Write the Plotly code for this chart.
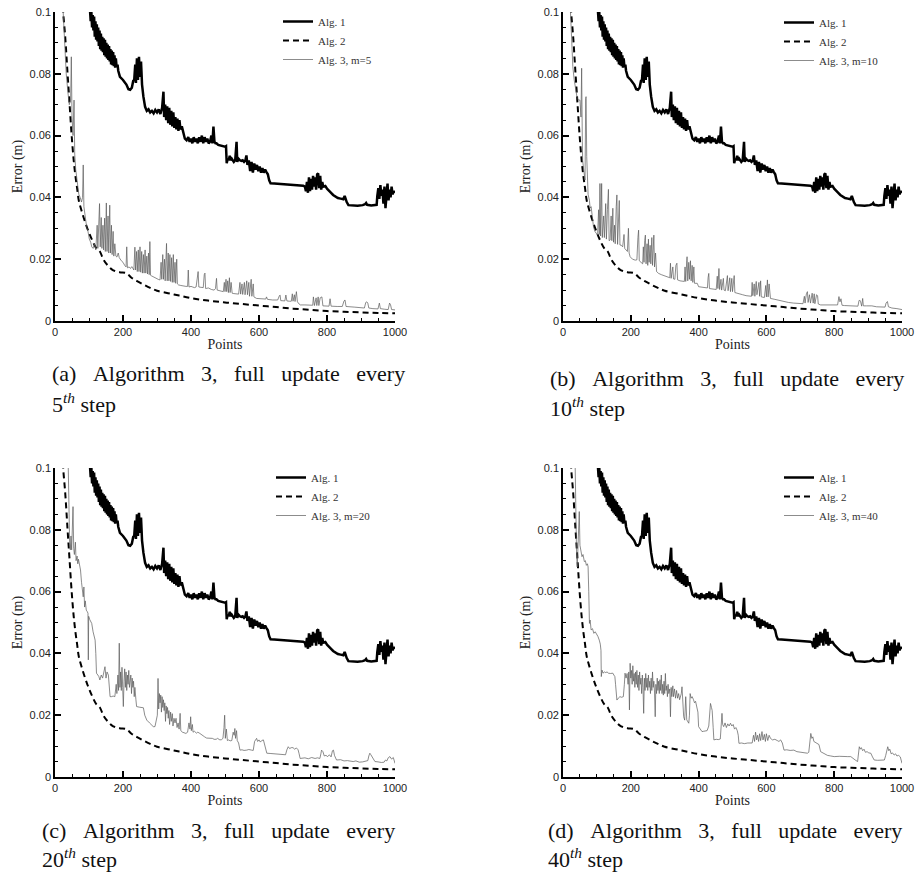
import plotly.graph_objects as go

# ---------------- data ----------------
ALG1 = [
    (103, 0.1005), (105, 0.097), (107, 0.100), (109, 0.095), (111, 0.099), (113, 0.094), (115, 0.0985),
    (117, 0.092), (119, 0.097), (121, 0.091), (123, 0.096), (125, 0.0905), (127, 0.095), (129, 0.089),
    (131, 0.094), (133, 0.088), (135, 0.093), (137, 0.0875), (139, 0.092), (141, 0.087), (143, 0.0915),
    (145, 0.086), (147, 0.091), (149, 0.0855), (151, 0.090), (153, 0.085), (155, 0.0895), (157, 0.0845),
    (159, 0.089), (161, 0.084), (163, 0.088), (165, 0.083), (167, 0.0875), (169, 0.0828), (171, 0.087),
    (173, 0.0825), (175, 0.086), (177, 0.082), (179, 0.085), (181, 0.0825), (184, 0.083), (186, 0.081),
    (191, 0.079), (200, 0.078), (210, 0.0765), (216, 0.075), (221, 0.0748), (226, 0.0755), (230, 0.0777),
    (233, 0.078), (236, 0.083), (238, 0.077), (241, 0.085), (244, 0.078), (247, 0.0855), (250, 0.079),
    (253, 0.084), (256, 0.0765), (260, 0.0726), (265, 0.0693), (270, 0.068), (275, 0.0685), (280, 0.0675),
    (285, 0.068), (290, 0.0672), (295, 0.0683), (300, 0.0675), (305, 0.0685), (310, 0.067), (315, 0.069),
    (319, 0.0742), (321, 0.066), (324, 0.070), (327, 0.065), (330, 0.0695), (333, 0.064), (336, 0.069),
    (339, 0.0635), (342, 0.068), (345, 0.063), (348, 0.0675), (351, 0.0625), (354, 0.066), (357, 0.062),
    (360, 0.0655), (363, 0.0615), (366, 0.065), (369, 0.062), (373, 0.063), (377, 0.0607), (382, 0.059),
    (387, 0.0585), (392, 0.0595), (396, 0.058), (400, 0.059), (404, 0.0575), (408, 0.0595), (412, 0.058),
    (416, 0.059), (420, 0.0575), (424, 0.0595), (428, 0.058), (432, 0.060), (436, 0.0575), (440, 0.0595),
    (444, 0.058), (448, 0.059), (452, 0.0575), (456, 0.058), (460, 0.060), (463, 0.0575), (466, 0.0629),
    (469, 0.058), (472, 0.0575), (475, 0.0575), (480, 0.057), (485, 0.0568), (490, 0.0566), (495, 0.0565),
    (500, 0.0564), (503, 0.0566), (505, 0.0511), (508, 0.0525), (511, 0.052), (514, 0.0535), (517, 0.052),
    (520, 0.0525), (523, 0.052), (526, 0.0515), (530, 0.052), (534, 0.058), (536, 0.0515), (540, 0.0525),
    (544, 0.052), (548, 0.0518), (552, 0.052), (556, 0.0515), (560, 0.052), (563, 0.0536), (566, 0.0505),
    (570, 0.052), (574, 0.0485), (578, 0.0515), (582, 0.048), (586, 0.051), (590, 0.049), (594, 0.0505),
    (598, 0.0485), (602, 0.050), (606, 0.048), (610, 0.0495), (614, 0.048), (618, 0.049), (622, 0.0482),
    (626, 0.0475), (630, 0.0455), (634, 0.0446), (645, 0.0445), (660, 0.0444), (675, 0.0443), (690, 0.0441),
    (705, 0.0442), (720, 0.044), (730, 0.0438), (735, 0.0435), (738, 0.042), (741, 0.045), (744, 0.0415),
    (747, 0.0465), (750, 0.042), (753, 0.046), (756, 0.0425), (759, 0.047), (762, 0.0435), (765, 0.0465),
    (768, 0.0425), (771, 0.0475), (774, 0.0478), (777, 0.043), (780, 0.047), (783, 0.0425), (786, 0.045),
    (789, 0.0435), (795, 0.0437), (800, 0.0428), (806, 0.042), (812, 0.0415), (818, 0.0408), (825, 0.0402),
    (832, 0.0398), (840, 0.0396), (848, 0.0394), (852, 0.0405), (855, 0.0392), (858, 0.0385), (863, 0.0375),
    (875, 0.0374), (890, 0.0373), (905, 0.0375), (912, 0.0378), (915, 0.0382), (918, 0.0376), (930, 0.0374),
    (940, 0.0375), (946, 0.0376), (948, 0.0405), (951, 0.043), (954, 0.0395), (957, 0.044), (960, 0.0405),
    (963, 0.0425), (966, 0.038), (969, 0.0435), (972, 0.0365), (975, 0.041), (978, 0.0445), (981, 0.039),
    (984, 0.0425), (987, 0.040), (990, 0.0435), (993, 0.041), (996, 0.042), (1000, 0.0415),
]

ALG2 = [
    (22, 0.105), (24, 0.100), (30, 0.092), (37, 0.080), (43, 0.070), (49, 0.060), (55, 0.052), (60, 0.047),
    (65, 0.043), (70, 0.039), (80, 0.035), (95, 0.030), (110, 0.026), (122, 0.0235), (132, 0.0225),
    (142, 0.020), (155, 0.018), (170, 0.0165), (190, 0.0158), (210, 0.0155), (225, 0.014), (240, 0.013),
    (260, 0.0118), (280, 0.0107), (300, 0.0098), (350, 0.0086), (400, 0.0074), (450, 0.0066), (500, 0.0060),
    (550, 0.0055), (600, 0.0050), (650, 0.0045), (700, 0.0040), (750, 0.0036), (800, 0.0032), (850, 0.0030),
    (900, 0.0028), (950, 0.0026), (1000, 0.0025),
]

ALG3_M5 = [
    (24, 0.100), (28, 0.090), (33, 0.080), (38, 0.074), (42, 0.070), (46, 0.0715), (48, 0.0855), (50, 0.066),
    (53, 0.060), (56, 0.0715), (58, 0.054), (61, 0.049), (64, 0.0456), (67, 0.043), (70, 0.041), (74, 0.040),
    (78, 0.0385), (81, 0.040), (83, 0.0505), (85, 0.037), (88, 0.034), (93, 0.0305), (97, 0.029), (101, 0.0265),
    (105, 0.0255), (108, 0.024), (112, 0.0235), (116, 0.025), (120, 0.023), (124, 0.031), (126, 0.0235),
    (129, 0.034), (131, 0.038), (133, 0.024), (136, 0.0335), (138, 0.0235), (141, 0.031), (143, 0.023),
    (146, 0.0333), (148, 0.0225), (151, 0.0382), (153, 0.0225), (156, 0.034), (158, 0.022), (161, 0.0375),
    (163, 0.022), (166, 0.031), (168, 0.0215), (171, 0.029), (173, 0.021), (176, 0.025), (179, 0.021),
    (182, 0.0207), (186, 0.022), (189, 0.0205), (195, 0.0195), (200, 0.019), (205, 0.018), (209, 0.0175),
    (211, 0.024), (213, 0.0172), (218, 0.0175), (222, 0.017), (226, 0.0176), (229, 0.017), (232, 0.0165),
    (235, 0.0239), (237, 0.0165), (240, 0.0225), (242, 0.016), (245, 0.023), (247, 0.016), (250, 0.024),
    (252, 0.0158), (255, 0.0225), (257, 0.0155), (260, 0.0215), (262, 0.0155), (265, 0.023), (267, 0.0155),
    (270, 0.021), (272, 0.0152), (275, 0.022), (277, 0.015), (279, 0.0257), (281, 0.0148), (284, 0.0146),
    (289, 0.0143), (295, 0.0138), (300, 0.0135), (305, 0.0134), (309, 0.0133), (312, 0.019), (314, 0.0135),
    (317, 0.0215), (319, 0.0135), (322, 0.020), (324, 0.013), (326, 0.0235), (328, 0.0251), (330, 0.013),
    (333, 0.022), (335, 0.013), (338, 0.0215), (340, 0.0128), (343, 0.0205), (345, 0.0125), (348, 0.0215),
    (350, 0.0125), (353, 0.019), (355, 0.0122), (358, 0.020), (360, 0.012), (363, 0.0117), (370, 0.0115),
    (377, 0.0113), (385, 0.0112), (390, 0.0112), (392, 0.0165), (394, 0.011), (400, 0.0112), (405, 0.011),
    (410, 0.0108), (415, 0.011), (418, 0.0145), (421, 0.016), (423, 0.011), (430, 0.0108), (436, 0.0108),
    (439, 0.015), (441, 0.0155), (443, 0.0105), (451, 0.0107), (460, 0.0102), (468, 0.010), (472, 0.0105),
    (475, 0.0138), (477, 0.010), (485, 0.0098), (495, 0.0095), (498, 0.0125), (500, 0.0095), (503, 0.0135),
    (505, 0.0095), (508, 0.013), (510, 0.0092), (513, 0.014), (515, 0.0092), (518, 0.0125), (521, 0.009),
    (524, 0.0089), (530, 0.0088), (535, 0.0088), (540, 0.0087), (544, 0.0125), (546, 0.0087), (550, 0.012),
    (552, 0.0086), (557, 0.0125), (559, 0.0085), (564, 0.013), (566, 0.0085), (570, 0.0125), (572, 0.008),
    (577, 0.0135), (579, 0.008), (583, 0.012), (585, 0.0078), (593, 0.0073), (605, 0.0072), (615, 0.0071),
    (620, 0.0071), (622, 0.0078), (625, 0.007), (640, 0.0068), (655, 0.0068), (660, 0.0082), (662, 0.0084),
    (664, 0.0066), (670, 0.0066), (676, 0.0065), (679, 0.0084), (682, 0.0065), (690, 0.0064), (695, 0.0064),
    (698, 0.0088), (700, 0.0064), (704, 0.0085), (706, 0.0063), (710, 0.0095), (713, 0.0062), (718, 0.0055),
    (721, 0.0052), (735, 0.0052), (750, 0.0051), (758, 0.0051), (760, 0.0078), (763, 0.005), (768, 0.0075),
    (770, 0.005), (774, 0.0078), (776, 0.005), (780, 0.0075), (785, 0.0078), (788, 0.0049), (800, 0.0048),
    (806, 0.0048), (809, 0.0072), (812, 0.0048), (830, 0.0047), (845, 0.0047), (850, 0.0065), (853, 0.0068),
    (856, 0.0047), (868, 0.0047), (880, 0.0045), (900, 0.0043), (910, 0.0042), (914, 0.006), (917, 0.0062),
    (920, 0.0058), (923, 0.0042), (935, 0.004), (950, 0.0039), (954, 0.0058), (957, 0.004), (970, 0.0038),
    (980, 0.0037), (984, 0.0058), (987, 0.0052), (990, 0.0037), (1000, 0.0036),
]

ALG3_M10 = [
    (22, 0.100), (26, 0.090), (29, 0.0823), (33, 0.078), (38, 0.075), (42, 0.072), (46, 0.0715), (50, 0.0715),
    (53, 0.066), (55, 0.0818), (57, 0.058), (58, 0.052), (61, 0.049), (65, 0.0456), (67, 0.072), (68, 0.0726),
    (70, 0.0532), (72, 0.045), (74, 0.041), (78, 0.039), (80, 0.0365), (83, 0.037), (86, 0.033), (90, 0.0305),
    (94, 0.029), (98, 0.0285), (102, 0.0278), (105, 0.036), (107, 0.028), (109, 0.0445), (111, 0.0275),
    (114, 0.0445), (116, 0.027), (120, 0.034), (122, 0.027), (126, 0.038), (128, 0.0265), (131, 0.036),
    (134, 0.0426), (136, 0.026), (139, 0.0262), (142, 0.034), (144, 0.026), (147, 0.0365), (149, 0.0255),
    (152, 0.031), (154, 0.025), (157, 0.037), (159, 0.0408), (161, 0.0248), (164, 0.035), (166, 0.039),
    (168, 0.0246), (172, 0.0245), (176, 0.024), (180, 0.028), (182, 0.0235), (186, 0.023), (190, 0.0225),
    (193, 0.030), (195, 0.022), (198, 0.0208), (205, 0.020), (213, 0.0197), (218, 0.0198), (221, 0.027),
    (223, 0.0294), (225, 0.0195), (230, 0.019), (235, 0.0185), (237, 0.024), (239, 0.019), (241, 0.026),
    (243, 0.0278), (245, 0.0185), (248, 0.025), (250, 0.018), (252, 0.0265), (254, 0.019), (257, 0.0245),
    (259, 0.0185), (262, 0.027), (264, 0.018), (266, 0.0255), (268, 0.0278), (270, 0.0175), (273, 0.022),
    (276, 0.016), (279, 0.0155), (282, 0.0154), (290, 0.015), (298, 0.0147), (305, 0.0145), (312, 0.014),
    (315, 0.014), (317, 0.0187), (319, 0.0138), (324, 0.0175), (326, 0.0136), (330, 0.0135), (333, 0.018),
    (336, 0.0187), (338, 0.0133), (345, 0.013), (352, 0.0128), (358, 0.0128), (360, 0.0175), (362, 0.0128),
    (365, 0.0195), (366, 0.0208), (368, 0.013), (371, 0.019), (373, 0.0135), (376, 0.0195), (378, 0.013),
    (381, 0.018), (383, 0.0125), (386, 0.0175), (388, 0.0122), (392, 0.0122), (396, 0.0122), (400, 0.0111),
    (410, 0.011), (420, 0.0108), (426, 0.0107), (428, 0.014), (430, 0.0154), (432, 0.0105), (440, 0.0103),
    (448, 0.0102), (452, 0.0102), (455, 0.0145), (457, 0.0105), (460, 0.017), (462, 0.0102), (466, 0.0135),
    (468, 0.010), (473, 0.0138), (475, 0.010), (479, 0.0098), (482, 0.0135), (485, 0.0147), (487, 0.0098),
    (492, 0.014), (494, 0.0095), (498, 0.0138), (500, 0.0095), (503, 0.014), (505, 0.0147), (507, 0.0092),
    (512, 0.009), (519, 0.0089), (530, 0.0085), (540, 0.0082), (553, 0.0079), (556, 0.008), (558, 0.0125),
    (560, 0.0082), (564, 0.012), (566, 0.008), (570, 0.0128), (572, 0.0085), (578, 0.0125), (580, 0.008),
    (583, 0.013), (585, 0.0078), (590, 0.0077), (594, 0.0076), (598, 0.0115), (600, 0.0078), (603, 0.0133),
    (605, 0.0078), (608, 0.012), (610, 0.0074), (612, 0.0073), (625, 0.007), (640, 0.0066), (652, 0.0063),
    (665, 0.006), (680, 0.0058), (691, 0.0057), (700, 0.0056), (708, 0.0056), (712, 0.008), (714, 0.0058),
    (718, 0.0088), (721, 0.0095), (723, 0.006), (727, 0.0085), (730, 0.0058), (735, 0.009), (738, 0.0058),
    (741, 0.0088), (743, 0.0056), (748, 0.0085), (751, 0.0082), (753, 0.0055), (760, 0.0052), (775, 0.0052),
    (790, 0.0051), (805, 0.005), (810, 0.0052), (814, 0.0079), (817, 0.0062), (820, 0.0072), (823, 0.0051),
    (830, 0.005), (840, 0.0049), (855, 0.0049), (865, 0.0048), (870, 0.0048), (873, 0.0065), (875, 0.0068),
    (878, 0.0062), (881, 0.0048), (884, 0.0073), (886, 0.0049), (895, 0.0049), (911, 0.0049), (925, 0.0046),
    (940, 0.0045), (950, 0.0045), (953, 0.0058), (957, 0.0063), (960, 0.0046), (970, 0.0042), (985, 0.004),
    (1000, 0.0037),
]

ALG3_M20 = [
    (39, 0.100), (40, 0.090), (41, 0.080), (43, 0.076), (45, 0.0735), (47, 0.078), (49, 0.0735), (51, 0.082),
    (53, 0.0875), (55, 0.074), (57, 0.072), (60, 0.076), (62, 0.070), (65, 0.0715), (67, 0.069), (69, 0.0705),
    (72, 0.069), (75, 0.067), (78, 0.063), (81, 0.060), (83, 0.0583), (85, 0.0615), (87, 0.055), (89, 0.057),
    (92, 0.054), (95, 0.0535), (97, 0.053), (98, 0.0379), (99, 0.052), (102, 0.051), (105, 0.0505),
    (108, 0.0497), (112, 0.047), (115, 0.046), (118, 0.0443), (120, 0.040), (122, 0.0336), (126, 0.033),
    (129, 0.0325), (132, 0.0314), (136, 0.033), (140, 0.032), (144, 0.034), (147, 0.0357), (150, 0.032),
    (153, 0.034), (157, 0.033), (160, 0.029), (162, 0.026), (166, 0.026), (171, 0.0262), (176, 0.026),
    (180, 0.030), (182, 0.027), (185, 0.033), (187, 0.028), (189, 0.0433), (191, 0.029), (193, 0.034),
    (195, 0.028), (197, 0.0355), (199, 0.029), (201, 0.0228), (203, 0.031), (205, 0.035), (207, 0.029),
    (209, 0.034), (211, 0.028), (213, 0.033), (215, 0.030), (217, 0.0345), (219, 0.029), (221, 0.0314),
    (223, 0.033), (225, 0.027), (227, 0.032), (229, 0.029), (231, 0.031), (233, 0.026), (235, 0.029),
    (238, 0.025), (240, 0.0228), (248, 0.0226), (255, 0.0225), (260, 0.0224), (264, 0.020), (267, 0.019),
    (270, 0.0184), (278, 0.0175), (285, 0.0165), (289, 0.0163), (294, 0.0163), (298, 0.018), (301, 0.020),
    (303, 0.0319), (305, 0.022), (307, 0.027), (309, 0.024), (311, 0.0265), (313, 0.021), (315, 0.026),
    (317, 0.0225), (319, 0.025), (321, 0.0215), (323, 0.024), (325, 0.018), (327, 0.023), (329, 0.0205),
    (331, 0.0225), (333, 0.019), (335, 0.0215), (337, 0.017), (340, 0.021), (342, 0.018), (345, 0.0205),
    (347, 0.0165), (350, 0.019), (353, 0.0175), (356, 0.019), (359, 0.016), (362, 0.0175), (365, 0.0155),
    (368, 0.0206), (370, 0.015), (375, 0.0145), (380, 0.0143), (385, 0.0141), (390, 0.0145), (394, 0.0175),
    (397, 0.0155), (399, 0.0195), (401, 0.015), (404, 0.017), (406, 0.0145), (410, 0.0148), (416, 0.0142),
    (420, 0.0145), (426, 0.0141), (432, 0.0135), (440, 0.013), (446, 0.0126), (455, 0.0125), (463, 0.0125),
    (468, 0.0122), (474, 0.0122), (478, 0.0125), (482, 0.0122), (485, 0.012), (490, 0.0121), (494, 0.0125),
    (497, 0.016), (499, 0.020), (501, 0.0125), (504, 0.0155), (507, 0.0118), (511, 0.012), (515, 0.0117),
    (520, 0.0118), (524, 0.0145), (527, 0.0135), (529, 0.0157), (531, 0.0125), (534, 0.015), (536, 0.0118),
    (540, 0.011), (544, 0.0087), (550, 0.0088), (556, 0.0086), (564, 0.0087), (570, 0.0089), (578, 0.0087),
    (583, 0.0086), (587, 0.0115), (590, 0.012), (593, 0.0125), (596, 0.0115), (600, 0.012), (604, 0.0113),
    (608, 0.0118), (613, 0.012), (617, 0.0105), (620, 0.009), (623, 0.0077), (635, 0.0076), (650, 0.0074),
    (660, 0.0072), (672, 0.0071), (678, 0.0072), (682, 0.0088), (686, 0.0098), (690, 0.0092), (695, 0.0095),
    (700, 0.0095), (705, 0.009), (710, 0.0094), (715, 0.0088), (718, 0.0075), (721, 0.006), (735, 0.0062),
    (745, 0.0059), (755, 0.0063), (765, 0.006), (772, 0.0062), (779, 0.006), (782, 0.0075), (784, 0.0087),
    (788, 0.0082), (792, 0.0068), (797, 0.007), (802, 0.0066), (807, 0.0072), (812, 0.0065), (816, 0.0085),
    (819, 0.0087), (822, 0.007), (825, 0.0062), (828, 0.0055), (840, 0.0056), (850, 0.0052), (860, 0.0053),
    (870, 0.005), (877, 0.005), (885, 0.0052), (895, 0.0048), (905, 0.0049), (915, 0.0051), (920, 0.0053),
    (923, 0.0068), (926, 0.0077), (929, 0.0072), (933, 0.0065), (936, 0.0062), (941, 0.005), (950, 0.0049),
    (960, 0.0047), (968, 0.0048), (972, 0.0055), (976, 0.0052), (980, 0.0062), (985, 0.0066), (990, 0.0058),
    (995, 0.0063), (1000, 0.0044),
]

ALG3_M40 = [
    (36, 0.100), (37, 0.090), (38, 0.080), (40, 0.072), (42, 0.068), (44, 0.0767), (46, 0.078), (48, 0.0859),
    (50, 0.075), (53, 0.0735), (56, 0.0713), (59, 0.072), (63, 0.0697), (66, 0.070), (69, 0.0685), (72, 0.069),
    (74, 0.068), (76, 0.060), (78, 0.0497), (80, 0.0508), (83, 0.0476), (87, 0.048), (91, 0.0465), (95, 0.047),
    (98, 0.0465), (103, 0.0455), (107, 0.0443), (110, 0.043), (112, 0.041), (113, 0.0325), (115, 0.0346),
    (118, 0.0336), (122, 0.034), (126, 0.0338), (130, 0.034), (134, 0.0336), (140, 0.0335), (147, 0.0336),
    (150, 0.033), (153, 0.0325), (155, 0.030), (157, 0.026), (159, 0.0249), (163, 0.0255), (168, 0.026),
    (173, 0.0258), (178, 0.026), (181, 0.030), (183, 0.0336), (186, 0.032), (189, 0.0335), (192, 0.030),
    (194, 0.034), (196, 0.0217), (198, 0.0368), (200, 0.032), (202, 0.0345), (204, 0.030), (206, 0.036),
    (208, 0.031), (210, 0.0335), (212, 0.029), (214, 0.034), (216, 0.030), (218, 0.0345), (220, 0.029),
    (222, 0.033), (224, 0.028), (226, 0.034), (228, 0.030), (230, 0.032), (232, 0.027), (234, 0.033),
    (236, 0.029), (238, 0.0206), (240, 0.032), (242, 0.028), (244, 0.0335), (246, 0.029), (248, 0.032),
    (250, 0.028), (252, 0.033), (254, 0.029), (256, 0.031), (258, 0.027), (260, 0.032), (262, 0.028),
    (264, 0.034), (266, 0.029), (268, 0.031), (270, 0.0275), (272, 0.0195), (274, 0.030), (276, 0.027),
    (278, 0.032), (280, 0.028), (282, 0.031), (284, 0.027), (286, 0.0315), (288, 0.028), (290, 0.033),
    (292, 0.027), (294, 0.030), (296, 0.0265), (298, 0.031), (300, 0.027), (302, 0.0335), (304, 0.028),
    (306, 0.0295), (308, 0.026), (310, 0.030), (312, 0.027), (315, 0.0285), (317, 0.0195), (319, 0.029),
    (321, 0.026), (324, 0.0295), (326, 0.026), (329, 0.0285), (332, 0.0255), (335, 0.028), (338, 0.0255),
    (341, 0.027), (344, 0.025), (346, 0.026), (349, 0.027), (351, 0.0292), (353, 0.025), (356, 0.0195),
    (359, 0.0184), (362, 0.026), (365, 0.0185), (368, 0.018), (371, 0.0174), (373, 0.020), (375, 0.027),
    (378, 0.0255), (381, 0.026), (385, 0.025), (388, 0.024), (391, 0.0245), (395, 0.0228), (398, 0.021),
    (400, 0.0163), (405, 0.0155), (410, 0.0147), (415, 0.0148), (420, 0.0149), (425, 0.015), (430, 0.0165),
    (433, 0.020), (435, 0.0238), (438, 0.0225), (440, 0.0215), (443, 0.016), (445, 0.012), (452, 0.0122),
    (458, 0.0121), (464, 0.0123), (467, 0.016), (469, 0.0206), (471, 0.017), (474, 0.0163), (478, 0.0175),
    (482, 0.016), (486, 0.0172), (490, 0.0165), (494, 0.0174), (498, 0.0165), (502, 0.017), (506, 0.0155),
    (510, 0.016), (514, 0.015), (517, 0.0135), (519, 0.0109), (527, 0.011), (535, 0.0108), (545, 0.011),
    (553, 0.0109), (558, 0.011), (562, 0.0135), (565, 0.0115), (568, 0.0145), (571, 0.012), (574, 0.0135),
    (577, 0.0115), (580, 0.014), (583, 0.0118), (587, 0.0147), (590, 0.012), (594, 0.0138), (597, 0.0115),
    (600, 0.014), (604, 0.0118), (608, 0.0135), (612, 0.0125), (618, 0.012), (625, 0.0122), (632, 0.0118),
    (637, 0.0115), (642, 0.012), (647, 0.011), (652, 0.0087), (660, 0.0088), (670, 0.0086), (681, 0.0087),
    (690, 0.0082), (700, 0.008), (710, 0.0078), (721, 0.0077), (725, 0.008), (728, 0.012), (731, 0.0141),
    (734, 0.0125), (737, 0.013), (740, 0.0115), (745, 0.0112), (751, 0.0109), (755, 0.0105), (760, 0.0082),
    (770, 0.0075), (780, 0.007), (790, 0.0068), (800, 0.0066), (815, 0.0067), (830, 0.0065), (840, 0.0066),
    (849, 0.0066), (855, 0.006), (862, 0.0055), (869, 0.005), (872, 0.008), (874, 0.0098), (877, 0.009),
    (880, 0.0095), (884, 0.0085), (888, 0.009), (892, 0.008), (897, 0.0082), (902, 0.0078), (908, 0.0077),
    (913, 0.0065), (918, 0.0055), (928, 0.0054), (938, 0.0055), (948, 0.0055), (952, 0.007), (955, 0.0085),
    (958, 0.0098), (961, 0.0085), (964, 0.009), (968, 0.0075), (972, 0.0078), (977, 0.0071), (981, 0.0075),
    (985, 0.0068), (990, 0.007), (995, 0.0065), (1000, 0.0044),
]

M_VALUES = [5, 10, 20, 40]
ALG3_SERIES = [ALG3_M5, ALG3_M10, ALG3_M20, ALG3_M40]
PANEL_LETTERS = ["a", "b", "c", "d"]
CAPTION_WORDS = ["Algorithm", "3,", "full", "update", "every"]
X_TICKS = [0, 200, 400, 600, 800, 1000]
Y_TICKS = [0, 0.02, 0.04, 0.06, 0.08, 0.1]
Y_TICK_TEXT = ["0", "0.02", "0.04", "0.06", "0.08", "0.1"]

# ---------------- layout geometry ----------------
W, H = 916, 874
COLS_X = [(55, 395), (563, 902)]
ROWS_Y = [(12, 321), (468, 777)]
LEGEND_POS = [(278, 7), (779, 8), (271, 463), (779, 463)]
CAPTION_POS = [((50, 373), (50, 403)), ((548, 378), (548, 407)),
               ((40, 830), (40, 858)), ((546, 830), (546, 858))]

def px_x(v):
    return v / W

def px_y(v):
    return 1 - v / H

fig = go.Figure()

tick_font = dict(family="Liberation Sans, Arial, sans-serif", size=11, color="#222")
title_font = dict(family="Liberation Serif, Times New Roman, serif", size=14, color="#222")
leg_font = dict(family="Liberation Serif, Times New Roman, serif", size=11, color="#333")
cap_font = dict(family="Liberation Serif, Times New Roman, serif", size=22, color="#111")
GAP = " \u00a0\u00a0"  # justified-looking word spacing of the captions

def xy(pairs):
    return [p[0] for p in pairs], [p[1] for p in pairs]

layout_updates = {}
annotations = []
for i in range(4):
    r, c = divmod(i, 2)
    sfx = "" if i == 0 else str(i + 1)
    xref, yref = "x" + sfx, "y" + sfx
    leg = "legend" + sfx

    ax1, ay1 = xy(ALG1)
    ax2, ay2 = xy(ALG2)
    ax3, ay3 = xy(ALG3_SERIES[i])
    fig.add_trace(go.Scatter(x=ax1, y=ay1, mode="lines", name="Alg. 1", xaxis=xref, yaxis=yref,
                             legend=leg, legendrank=1,
                             line=dict(color="#000", width=2.5)))
    fig.add_trace(go.Scatter(x=ax2, y=ay2, mode="lines", name="Alg. 2", xaxis=xref, yaxis=yref,
                             legend=leg, legendrank=2, line_shape="spline",
                             line=dict(color="#000", width=2, dash="6px,4px")))
    fig.add_trace(go.Scatter(x=ax3, y=ay3, mode="lines", name=f"Alg. 3, m={M_VALUES[i]}",
                             xaxis=xref, yaxis=yref, legend=leg, legendrank=3,
                             line=dict(color="#5a5a5a", width=0.7)))

    x0, x1 = COLS_X[c]
    y0, y1 = ROWS_Y[r]
    layout_updates["xaxis" + sfx] = dict(
        domain=[px_x(x0), px_x(x1)], anchor=yref, range=[0, 1000],
        tickvals=X_TICKS, ticks="inside", ticklen=6, tickwidth=1.5, tickcolor="#000",
        minor=dict(dtick=50, tick0=0, ticks="inside", ticklen=3, tickwidth=1, tickcolor="#000"),
        showline=True, linecolor="#000", linewidth=1.6, showgrid=False, zeroline=False,
        tickfont=tick_font, automargin=False,
        title=dict(text="Points", font=title_font, standoff=2),
    )
    layout_updates["yaxis" + sfx] = dict(
        domain=[px_y(y1), px_y(y0)], anchor=xref, range=[0, 0.1],
        tickvals=Y_TICKS, ticktext=Y_TICK_TEXT, ticks="inside", ticklen=6, tickwidth=1.5, tickcolor="#000",
        minor=dict(dtick=0.005, tick0=0, ticks="inside", ticklen=3, tickwidth=1, tickcolor="#000"),
        showline=True, linecolor="#000", linewidth=1.6, showgrid=False, zeroline=False,
        tickfont=tick_font, automargin=False,
        title=dict(text="Error (m)", font=title_font, standoff=4),
    )
    lx, ly = LEGEND_POS[i]
    layout_updates[leg] = dict(x=px_x(lx), y=px_y(ly), xanchor="left", yanchor="top",
                               bgcolor="rgba(0,0,0,0)", borderwidth=0, font=leg_font,
                               traceorder="normal")

    (c1x, c1y), (c2x, c2y) = CAPTION_POS[i]
    line1 = GAP.join([f"({PANEL_LETTERS[i]})"] + CAPTION_WORDS)
    annotations.append(dict(text=line1,
                            x=px_x(c1x), y=px_y(c1y), xref="paper", yref="paper",
                            xanchor="left", yanchor="middle", showarrow=False, font=cap_font))
    annotations.append(dict(text=f"{M_VALUES[i]}<sup><i>th</i></sup> step",
                            x=px_x(c2x), y=px_y(c2y), xref="paper", yref="paper",
                            xanchor="left", yanchor="middle", showarrow=False, font=cap_font))

fig.update_layout(
    width=W, height=H, margin=dict(l=0, r=0, t=0, b=0),
    paper_bgcolor="white", plot_bgcolor="white", template="none",
    showlegend=True, annotations=annotations, **layout_updates,
)

fig.write_html("out.html")
